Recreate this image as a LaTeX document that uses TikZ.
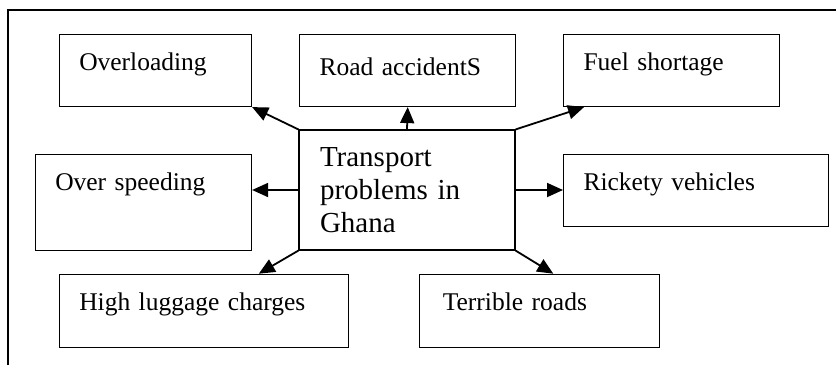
\documentclass[tikz,border=0pt]{standalone}
\usepackage{fontspec}
\setmainfont{Liberation Serif}
\usetikzlibrary{arrows.meta,calc}

\tikzset{
  probbox/.style={draw, line width=1.1pt, rectangle, anchor=north west, inner sep=0pt, inner xsep=20pt, align=left, text height=36pt, font=\fontsize{25.5}{30}\selectfont},
  link/.style={-{Triangle[length=16pt,width=14pt]}, line width=1.8pt}
}

\begin{document}
\begin{tikzpicture}[x=1pt,y=-1pt]
			\useasboundingbox (0,0) rectangle (836,365);
			\draw[line width=1.1pt] (8,365) -- (8,10) -- (836,10);

			\node[draw, line width=1.1pt, minimum width=216pt, minimum height=120pt, inner xsep=21pt, text width=174pt, align=left, font=\fontsize{29}{33}\selectfont] (hub) at (407,190) {Transport\\problems in\\Ghana};

			\node[probbox, text width=152.3pt, text depth=36.3pt] (overload) at (58.7,33.7) {Overloading};
			\node[probbox, text width=176.3pt, text height=41pt, text depth=31.3pt] (accid) at (299,33.7) {Road accidentS};
			\node[probbox, text width=176.3pt, text depth=36.3pt] (fuel) at (563,33.7) {Fuel shortage};

			\node[probbox, text width=176.3pt, text depth=60pt] (speed) at (34.7,154) {Over speeding};
			\node[probbox, text width=224.7pt, text height=35.7pt, text depth=36pt] (rickety) at (563,154) {Rickety vehicles};

			\node[probbox, text width=249pt, text depth=37pt] (luggage) at (58.7,273.7) {High luggage charges};
			\node[probbox, inner xsep=23pt, text width=194pt, text depth=37pt] (roads) at (419.3,273.7) {Terrible roads};

			\draw[link] (hub.north west) -- (overload.south east);
			\draw[link] (hub.north) -- (accid.south);
			\draw[link] (hub.north east) -- ($(fuel.south west)+(21,0)$);
			\draw[link] (hub.west) -- (hub.west -| speed.east);
			\draw[link] (hub.east) -- (hub.east -| rickety.west);
			\draw[link] (hub.south west) -- ($(luggage.north east)+(-90,0)$);
			\draw[link] (hub.south east) -- ($(roads.north west)+(134,0)$);
		\end{tikzpicture}
\end{document}
